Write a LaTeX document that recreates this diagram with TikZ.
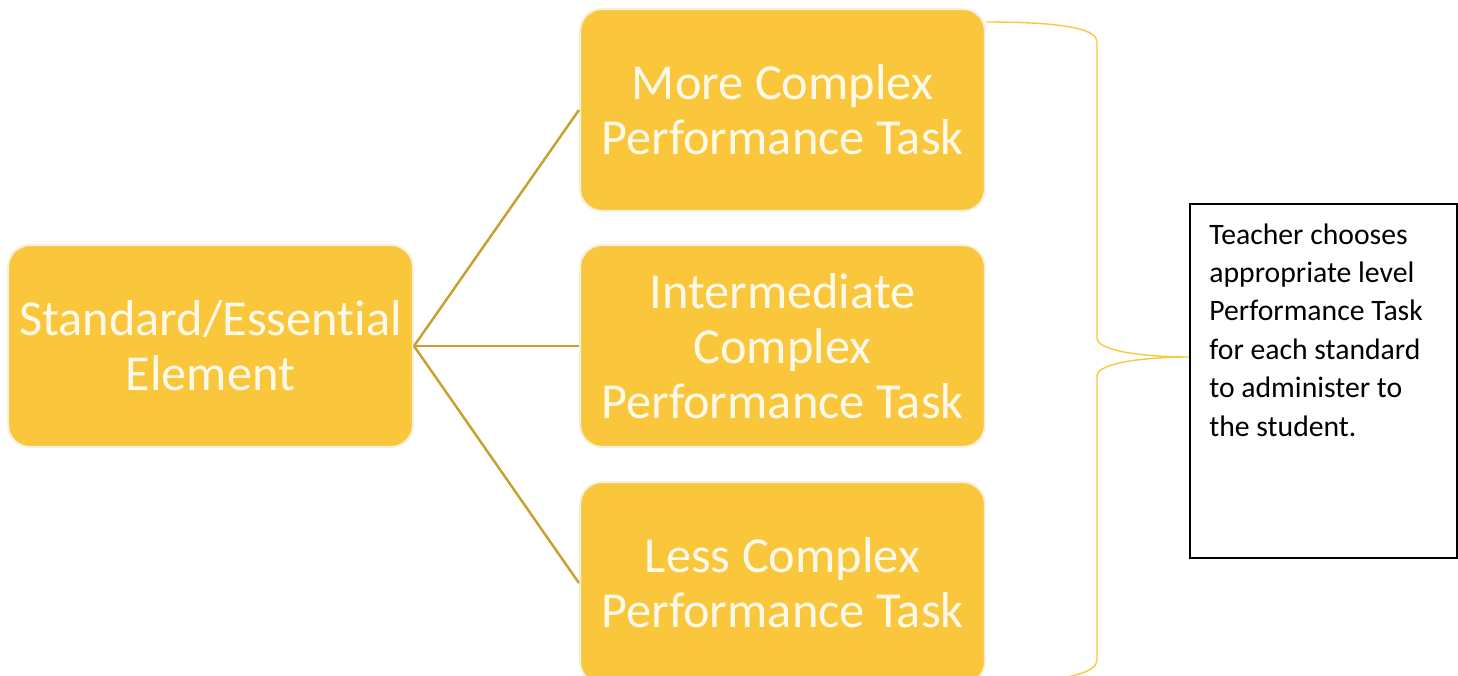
\documentclass[tikz,border=0pt]{standalone}
\usepackage{fontspec}
\setmainfont[Ligatures=NoCommon]{Carlito}
\usetikzlibrary{positioning}
\definecolor{goldfill}{RGB}{249,198,60}
\definecolor{goldedge}{RGB}{246,240,222}
\definecolor{goldline}{RGB}{200,160,46}
\definecolor{bracecol}{RGB}{250,200,60}
\definecolor{paletext}{RGB}{255,249,234}

\begin{document}
\begin{tikzpicture}
  [
  x = 0.02cm, y = -0.02cm,
  % yellow boxes
  task/.style = {rectangle, rounded corners = 0.44cm,
    draw = goldedge, line width = 1.2pt, fill = goldfill,
    minimum width = 8.1cm, minimum height = 4.04cm,
    text = paletext, align = center,
    font = \fontsize{28.7}{31.3}\selectfont},
  % note
  note/.style = {rectangle, draw, line width = 1.1pt,
    minimum width = 5.34cm, minimum height = 7.08cm},
  % line
  line/.style = {draw, goldline, line width = 1.4pt},
  ]

  \clip (0,0) rectangle (1458,676);

  % nodes
  \node [task] (std) at (210.5,346) {Standard/Essential\\Element};
  \node [task, right = 3.3cm of std] (mid) {Intermediate\\Complex\\Performance Task};
  \node [task, above = 0.64cm of mid] (more) {More Complex\\Performance Task};
  \node [task, below = 0.66cm of mid] (less) {Less Complex\\Performance Task};
  \node [note] (box) at (1323.5,381) {};
  \node [anchor = north west, align = left,
    inner sep = 0pt, font = \fontsize{16.9}{21.9}\selectfont]
    (boxtext) at ([shift = {(0.4cm,-0.4cm)}]box.north west)
    {Teacher chooses\\appropriate level\\Performance Task\\for each standard\\to administer to\\the student.};

  % path
  \path [line] (std.east) -- (more.west);
  \path [line] (std.east) -- (mid.west);
  \path [line] (std.east) -- (less.west);

  % brace
  \draw [bracecol, line width = 0.8pt]
    (986,22) .. controls (1070,22) and (1097,30) .. (1097,42)
    -- (1097,338) .. controls (1097,352) and (1150,357) .. (box.west |- 0,357)
    .. controls (1150,357) and (1097,362) .. (1097,376)
    -- (1097,660) .. controls (1097,672) and (1070,682) .. (986,684);

\end{tikzpicture}
\end{document}
